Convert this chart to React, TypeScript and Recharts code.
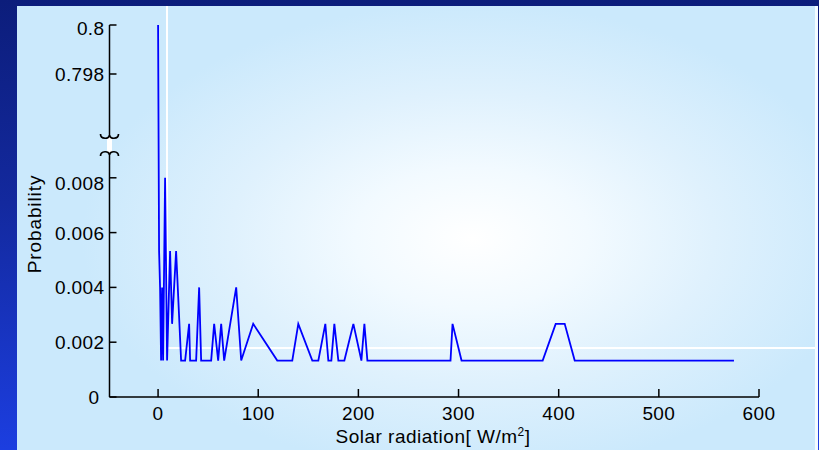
import { LineChart, Line, XAxis, YAxis, ReferenceDot } from 'recharts';

// solar radiation [W/m2] and probability
const solarRadiation = [
  0, 1, 2, 3, 4, 5, 7, 9, 12, 14, 18, 23, 27, 31, 32, 38, 41, 43, 53, 56, 60, 63, 66, 78, 83,
  95, 119, 134, 140, 154, 160, 167, 170, 173, 176, 180, 186, 195, 203, 206, 209, 292, 294, 303,
  384, 397, 406, 416, 575,
];
const probability = [
  0.8, 0.00533, 0.004, 0.00133, 0.004, 0.00133, 0.008, 0.00133, 0.00533, 0.00267, 0.00533,
  0.00133, 0.00133, 0.00267, 0.00133, 0.00133, 0.004, 0.00133, 0.00133, 0.00267, 0.00133,
  0.00267, 0.00133, 0.004, 0.00133, 0.00267, 0.00133, 0.00133, 0.00267, 0.00133, 0.00133,
  0.00267, 0.00133, 0.00133, 0.00267, 0.00133, 0.00133, 0.00267, 0.00133, 0.00267, 0.00133,
  0.00133, 0.00267, 0.00133, 0.00133, 0.00267, 0.00267, 0.00133, 0.00133,
];

const xTicks = [0, 100, 200, 300, 400, 500, 600];
const yTickValues = [0, 0.002, 0.004, 0.006, 0.008, 0.798, 0.8];
const yTickLabels = ['0', '0.002', '0.004', '0.006', '0.008', '0.798', '0.8'];

// broken y axis: 0..0.009 below the break, 0.797..0.8 above it
const toAxis = (v: number) => (v < 0.5 ? v * 27400 : 323 + (v - 0.798) * 24500);
const breakAt = 252;

const data = solarRadiation.map((x, i) => ({ x, u: toAxis(probability[i]) }));

const FONT = "'Liberation Sans', Arial, sans-serif";

const YTick = (props: any) => {
  const { x, y, index } = props;
  const label = yTickLabels[index];
  const dy = label === '0.8' ? 3 : label === '0.008' ? 5 : 0;
  const dx = label === '0' ? -5 : 0;
  return (
    <g>
      <line x1={x} y1={y} x2={x + 7} y2={y} stroke="#000" strokeWidth={1.5} />
      <text x={x - 5 + dx} y={y + 7 + dy} textAnchor="end" fontSize={19} letterSpacing={0.4} fill="#000" fontFamily={FONT}>
        {label}
      </text>
    </g>
  );
};

const XTick = (props: any) => {
  const { x, y, payload } = props;
  return (
    <g>
      <line x1={x} y1={y} x2={x} y2={y - 8} stroke="#000" strokeWidth={1.5} />
      <text x={x} y={y + 23} textAnchor="middle" fontSize={19} letterSpacing={0.4} fill="#000" fontFamily={FONT}>
        {payload.value}
      </text>
    </g>
  );
};

const BreakMark = (props: any) => {
  const { cx, cy } = props;
  return (
    <g fill="none" stroke="#000" strokeWidth={1.7}>
      <rect x={cx - 2.5} y={cy - 8} width={5} height={16} fill="#fff" stroke="none" />
      <path d={`M${cx - 9},${cy - 11} C${cx - 9},${cy - 5.5} ${cx},${cy - 5.5} ${cx},${cy - 10} C${cx},${cy - 5.5} ${cx + 9},${cy - 5.5} ${cx + 9},${cy - 11}`} />
      <path d={`M${cx - 9},${cy + 11} C${cx - 9},${cy + 5.5} ${cx},${cy + 5.5} ${cx},${cy + 10} C${cx},${cy + 5.5} ${cx + 9},${cy + 5.5} ${cx + 9},${cy + 11}`} />
    </g>
  );
};

export default function App() {
  return (
    <div
      style={{
        position: 'fixed',
        left: 0,
        top: 0,
        width: 819,
        height: 450,
        overflow: 'hidden',
        background: 'linear-gradient(to bottom, #0c1d7b 0%, #13299e 45%, #1c3ee0 100%)',
        fontFamily: FONT,
      }}
    >
      <div
        style={{
          position: 'absolute',
          left: 17,
          top: 6,
          width: 798,
          height: 444,
          borderRight: '3px solid #f4fbff',
          background:
            'radial-gradient(ellipse 390px 235px at 455px 232px, #ffffff 0%, #f2faff 30%, #dff1fd 62%, #cbe9fc 100%)',
        }}
      />
      <div style={{ position: 'absolute', left: 166, top: 6, width: 2, height: 342, background: '#ffffff' }} />
      <div style={{ position: 'absolute', left: 167, top: 347, width: 648, height: 2, background: '#ffffff' }} />

      <div style={{ position: 'absolute', left: 0, top: 0 }}>
        <LineChart width={819} height={450} data={data} margin={{ top: 25, right: 60, bottom: 23, left: 49.5 }}>
          <XAxis
            type="number"
            dataKey="x"
            domain={[-48.5, 600]}
            ticks={xTicks}
            allowDataOverflow
            height={30}
            tickSize={0}
            tickMargin={0}
            tickLine={false}
            tick={<XTick />}
            axisLine={{ stroke: '#000', strokeWidth: 1.5 }}
          />
          <YAxis
            type="number"
            dataKey="u"
            domain={[0, 372]}
            ticks={yTickValues.map(toAxis)}
            allowDataOverflow
            width={60}
            tickSize={0}
            tickMargin={0}
            tickLine={false}
            tick={<YTick />}
            axisLine={{ stroke: '#000', strokeWidth: 1.5 }}
          />
          <Line
            type="linear"
            dataKey="u"
            stroke="#0000ff"
            strokeWidth={1.8}
            dot={false}
            isAnimationActive={false}
          />
          <ReferenceDot x={-48.5} y={breakAt} r={0} ifOverflow="visible" shape={<BreakMark />} />
        </LineChart>
      </div>

      <svg width={819} height={450} style={{ position: 'absolute', left: 0, top: 0, pointerEvents: 'none' }}>
        <text
          transform="translate(41,224) rotate(-90)"
          textAnchor="middle"
          fontSize={19}
          letterSpacing={0.9}
          fill="#000"
          fontFamily={FONT}
        >
          Probability
        </text>
        <text x={433} y={443} textAnchor="middle" fontSize={19} letterSpacing={0.5} fill="#000" fontFamily={FONT}>
          <tspan>Solar radiation[ W/m</tspan>
          <tspan dy={-7} fontSize={12}>2</tspan>
          <tspan dy={7}>]</tspan>
        </text>
      </svg>
    </div>
  );
}
